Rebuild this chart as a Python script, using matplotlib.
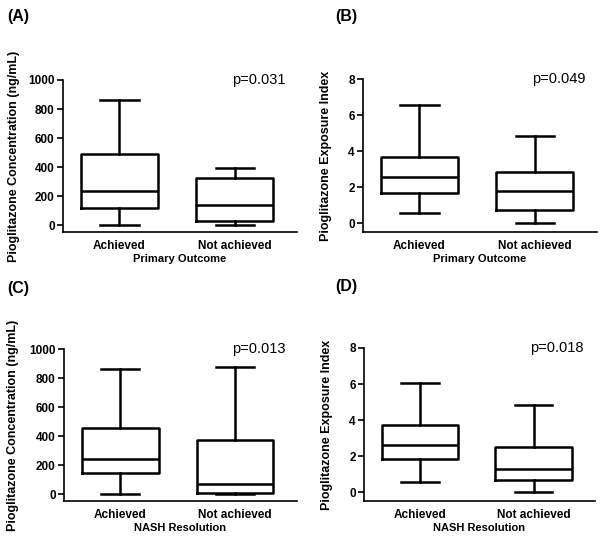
import matplotlib
matplotlib.use("Agg")
import matplotlib.pyplot as plt

plt.rcParams["font.family"] = ["Liberation Sans", "DejaVu Sans"]

groups = ["Achieved", "Not achieved"]

# five-number summaries: whislo, q1, median, q3, whishi
conc_primary = [[0, 117, 238, 488, 862], [0, 27, 135, 323, 390]]
index_primary = [[0.58, 1.68, 2.55, 3.68, 6.56], [0.0, 0.74, 1.79, 2.83, 4.84]]
conc_nash = [[0, 147, 239, 457, 860], [0, 9, 71, 370, 878]]
index_nash = [[0.58, 1.85, 2.63, 3.73, 6.08], [0.0, 0.70, 1.30, 2.51, 4.84]]

panels = ["(A)", "(B)", "(C)", "(D)"]
p_values = ["p=0.031", "p=0.049", "p=0.013", "p=0.018"]
outcomes = ["Primary Outcome", "Primary Outcome", "NASH Resolution", "NASH Resolution"]
ylabels = ["Pioglitazone Concentration (ng/mL)", "Pioglitazone Exposure Index",
           "Pioglitazone Concentration (ng/mL)", "Pioglitazone Exposure Index"]
conc_ticks = [0, 200, 400, 600, 800, 1000]
index_ticks = [0, 2, 4, 6, 8]

W, H = 604, 541
fig = plt.figure(figsize=(W / 100, H / 100), dpi=100)

# axes boxes in pixels: left, right, top, bottom
boxes = [(63, 297, 80, 232), (363, 597, 79, 232),
         (64, 297, 349, 501), (364, 595, 348, 501)]
label_pos = [(7, 16), (335, 16), (7, 289), (335, 286)]
ylab_x = [-0.184, -0.131, -0.192, -0.133]

for i, data in enumerate([conc_primary, index_primary, conc_nash, index_nash]):
    l, r, t, b = boxes[i]
    ax = fig.add_axes([l / W, 1 - b / H, (r - l) / W, (b - t) / H])
    stats = [dict(whislo=d[0], q1=d[1], med=d[2], q3=d[3], whishi=d[4], label=g)
             for d, g in zip(data, groups)]
    lw = 1.8
    ax.bxp(stats, positions=[0, 1], widths=0.67, capwidths=0.33, showfliers=False,
           boxprops=dict(color="black", linewidth=lw),
           whiskerprops=dict(color="black", linewidth=lw),
           capprops=dict(color="black", linewidth=lw),
           medianprops=dict(color="black", linewidth=lw))
    ax.set_xlim(-0.49, 1.54)
    if i % 2 == 0:
        ax.set_ylim(-48, 1000)
        ax.set_yticks(conc_ticks)
    else:
        ax.set_ylim(-0.48, 8)
        ax.set_yticks(index_ticks)
    ax.set_xticks([0, 1])
    ax.set_xticklabels(groups, fontsize=8.5, fontweight="bold")
    ax.tick_params(axis="x", length=0, pad=6)
    ax.tick_params(axis="y", length=4, width=1.2, labelsize=8.5, pad=2)
    for lab in ax.get_yticklabels():
        lab.set_fontweight("bold")
    ax.spines["top"].set_visible(False)
    ax.spines["right"].set_visible(False)
    ax.spines["left"].set_linewidth(1.2)
    ax.spines["bottom"].set_linewidth(1.2)
    ax.set_xlabel(outcomes[i], fontsize=8, fontweight="bold", labelpad=1)
    ax.set_ylabel(ylabels[i], fontsize=9, fontweight="bold")
    ax.yaxis.set_label_coords(ylab_x[i], 0.5)
    ax.text(0.95, 1.0, p_values[i], transform=ax.transAxes, ha="right", va="center",
            fontsize=10.5)
    fig.text(label_pos[i][0] / W, 1 - label_pos[i][1] / H, panels[i],
             fontsize=11.5, fontweight="bold", va="center", ha="left")

fig.savefig("out.png", dpi=100)
